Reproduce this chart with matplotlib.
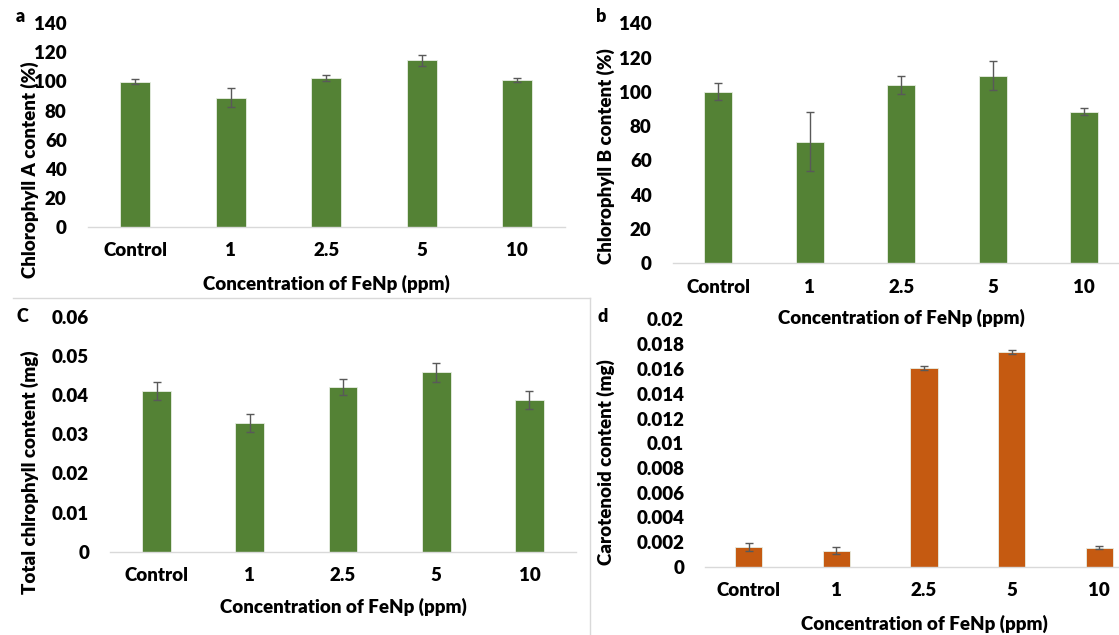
import matplotlib.pyplot as plt
from matplotlib.lines import Line2D

plt.rcParams['font.family'] = ['Lato', 'DejaVu Sans']
plt.rcParams['font.weight'] = 'heavy'

W, H = 1119, 635

# data
categories = ['Control', '1', '2.5', '5', '10']

chl_a = [100, 89, 102.5, 114.5, 101]
chl_a_err = [1.7, 6.3, 2.2, 3.8, 1.4]

chl_b = [100.2, 71, 103.9, 109.5, 88.5]
chl_b_err = [4.9, 17, 5.2, 8.6, 2]

total_chl = [0.041, 0.0328, 0.042, 0.0458, 0.0388]
total_chl_err = [0.00225, 0.0023, 0.0021, 0.0024, 0.0023]

carot = [0.00162, 0.00132, 0.01609, 0.01741, 0.00154]
carot_err = [0.0003, 0.00026, 0.00018, 0.00016, 0.00012]

ticks_pct = [0, 20, 40, 60, 80, 100, 120, 140]
ticks_total = [0, 0.01, 0.02, 0.03, 0.04, 0.05, 0.06]
ticks_carot = [0, 0.002, 0.004, 0.006, 0.008, 0.01, 0.012, 0.014, 0.016, 0.018, 0.02]

green = '#548235'
orange = '#c55a11'
FS = 13.5

fig = plt.figure(figsize=(W / 100, H / 100), dpi=100)


def panel(box, vals, errs, ticks, color, letter, letter_xy, ylabel, ylab_xy, xlab_xy):
    left, right, y0, ytop = box
    ax = fig.add_axes([left / W, 1 - y0 / H, (right - left) / W, (y0 - ytop) / H])
    x = range(len(categories))
    ax.bar(x, vals, width=0.31, color=color, edgecolor='#e8eee4', linewidth=0.6, zorder=2)
    ax.errorbar(x, vals, yerr=errs, fmt='none', ecolor='#595959',
                elinewidth=1, capsize=3, capthick=1, zorder=3)
    ax.set_xlim(-0.5, len(categories) - 0.5)
    ax.set_ylim(ticks[0], ticks[-1])
    ax.set_yticks(ticks)
    ax.set_yticklabels(['{:g}'.format(t) for t in ticks])
    ax.set_xticks(list(x))
    ax.set_xticklabels(categories)
    for s in ['top', 'right', 'left']:
        ax.spines[s].set_visible(False)
    ax.spines['bottom'].set_color('#d9d9d9')
    ax.spines['bottom'].set_linewidth(1)
    ax.tick_params(axis='both', length=0, labelsize=FS)
    ax.tick_params(axis='x', pad=11)
    ax.tick_params(axis='y', pad=15)
    ax.patch.set_alpha(0)

    fig.text(letter_xy[0] / W, 1 - letter_xy[1] / H, letter, fontsize=13,
             ha='center', va='center')
    fig.text(ylab_xy[0] / W, 1 - ylab_xy[1] / H, ylabel, fontsize=FS,
             rotation=90, ha='center', va='center')
    fig.text(xlab_xy[0] / W, 1 - xlab_xy[1] / H, 'Concentration of FeNp (ppm)',
             fontsize=FS, ha='center', va='center')
    return ax


panel((87.5, 565, 227, 23.3), chl_a, chl_a_err, ticks_pct, green,
      'a', (20, 17), 'Chlorophyll A content (%)', (30, 170), (326, 284))
panel((672.5, 1130, 263.3, 23.3), chl_b, chl_b_err, ticks_pct, green,
      'b', (601, 16), 'Chlorophyll B content (%)', (606, 156), (901, 318))
panel((110, 576, 551.7, 316.7), total_chl, total_chl_err, ticks_total, green,
      'C', (22.6, 316), 'Total chlrophyll content (mg)', (30, 472), (343, 607))
panel((705, 1143, 567, 319.5), carot, carot_err, ticks_carot, orange,
      'd', (603, 316), 'Carotenoid content (mg)', (606, 462), (924, 624))

# light frame around panel c
fig.add_artist(Line2D([12.5 / W, 590 / W], [1 - 298 / H, 1 - 298 / H],
                      color='#d9d9d9', lw=1))
fig.add_artist(Line2D([590 / W, 590 / W], [1 - 298 / H, 0],
                      color='#d9d9d9', lw=1))

fig.savefig('out.png', dpi=100)
